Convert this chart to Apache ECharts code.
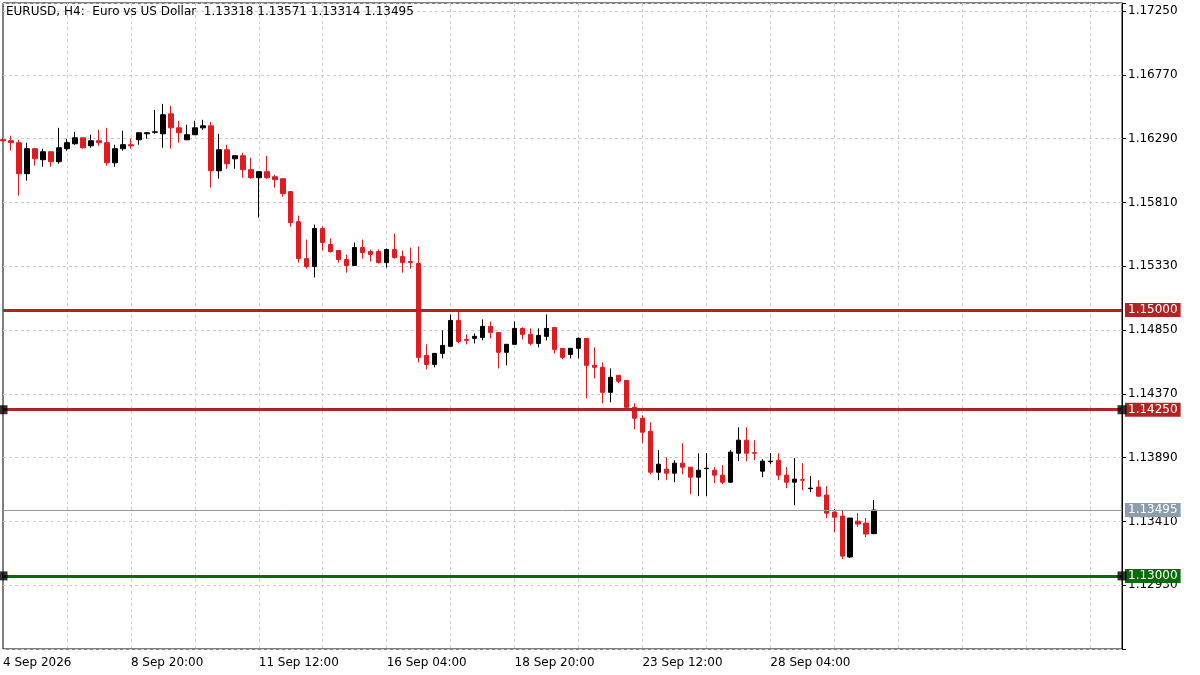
<!DOCTYPE html>
<html><head><meta charset="utf-8">
<script src="https://cdn.jsdelivr.net/npm/echarts@6/dist/echarts.min.js"></script>
<style>html,body{margin:0;padding:0;background:#fff}#c{width:1200px;height:675px}</style>
</head><body><div id="c"></div>
<script>
// [open, close, low, high]
const candles = [
[1.16282,1.16274,1.16266,1.16296],[1.16274,1.16259,1.16199,1.16311],[1.16259,1.16026,1.15861,1.16281],[1.16026,1.16214,1.15973,1.16259],
[1.16214,1.16138,1.16086,1.16220],[1.16131,1.16191,1.16078,1.16214],[1.16191,1.16116,1.16078,1.16195],[1.16116,1.16221,1.16101,1.16371],
[1.16214,1.16259,1.16199,1.16289],[1.16251,1.16296,1.16244,1.16341],[1.16296,1.16221,1.16214,1.16300],[1.16236,1.16274,1.16221,1.16319],
[1.16274,1.16259,1.16236,1.16356],[1.16259,1.16108,1.16086,1.16371],[1.16108,1.16214,1.16078,1.16244],[1.16214,1.16244,1.16199,1.16349],
[1.16244,1.16236,1.16214,1.16289],[1.16281,1.16334,1.16244,1.16337],[1.16326,1.16334,1.16289,1.16340],[1.16337,1.16341,1.16326,1.16506],
[1.16326,1.16469,1.16221,1.16551],[1.16476,1.16371,1.16214,1.16536],[1.16371,1.16334,1.16259,1.16424],[1.16281,1.16319,1.16281,1.16394],
[1.16319,1.16371,1.16319,1.16424],[1.16371,1.16386,1.16356,1.16431],[1.16386,1.16048,1.15921,1.16416],[1.16048,1.16206,1.15988,1.16326],
[1.16206,1.16101,1.16063,1.16244],[1.16138,1.16161,1.16063,1.16161],[1.16161,1.16056,1.15996,1.16184],[1.16056,1.15996,1.15988,1.16146],
[1.15996,1.16041,1.15695,1.16041],[1.16041,1.15996,1.15988,1.16161],[1.16003,1.15981,1.15921,1.16018],[1.15988,1.15876,1.15853,1.15988],
[1.15891,1.15658,1.15628,1.15891],[1.15665,1.15387,1.15357,1.15710],[1.15387,1.15327,1.15312,1.15530],[1.15327,1.15613,1.15245,1.15643],
[1.15613,1.15508,1.15448,1.15628],[1.15493,1.15440,1.15433,1.15538],[1.15448,1.15380,1.15357,1.15448],[1.15380,1.15335,1.15282,1.15418],
[1.15335,1.15470,1.15335,1.15508],[1.15470,1.15433,1.15387,1.15530],[1.15440,1.15418,1.15365,1.15455],[1.15440,1.15357,1.15350,1.15455],
[1.15357,1.15455,1.15320,1.15463],[1.15455,1.15395,1.15387,1.15575],[1.15402,1.15357,1.15282,1.15448],[1.15365,1.15357,1.15312,1.15470],
[1.15350,1.14644,1.14606,1.15478],[1.14659,1.14591,1.14554,1.14742],[1.14591,1.14674,1.14569,1.14674],[1.14674,1.14734,1.14636,1.14847],
[1.14727,1.14922,1.14727,1.14967],[1.14922,1.14764,1.14749,1.14989],[1.14779,1.14772,1.14742,1.14817],[1.14787,1.14802,1.14749,1.14824],
[1.14794,1.14877,1.14772,1.14929],[1.14877,1.14832,1.14787,1.14914],[1.14832,1.14682,1.14561,1.14832],[1.14682,1.14742,1.14584,1.14742],
[1.14742,1.14862,1.14742,1.14914],[1.14862,1.14817,1.14779,1.14869],[1.14817,1.14749,1.14734,1.14862],[1.14749,1.14809,1.14719,1.14862],
[1.14802,1.14862,1.14772,1.14967],[1.14869,1.14704,1.14674,1.14869],[1.14712,1.14644,1.14629,1.14712],[1.14666,1.14712,1.14636,1.14712],
[1.14712,1.14787,1.14636,1.14794],[1.14787,1.14584,1.14336,1.14787],[1.14584,1.14569,1.14486,1.14719],[1.14569,1.14381,1.14298,1.14606],
[1.14381,1.14494,1.14306,1.14561],[1.14509,1.14464,1.14449,1.14509],[1.14471,1.14268,1.14246,1.14471],[1.14268,1.14186,1.14103,1.14298],
[1.14186,1.14081,1.13998,1.14208],[1.14088,1.13780,1.13765,1.14156],[1.13780,1.13840,1.13720,1.13946],[1.13803,1.13773,1.13720,1.13893],
[1.13773,1.13848,1.13705,1.13870],[1.13848,1.13818,1.13765,1.13998],[1.13818,1.13743,1.13615,1.13818],[1.13743,1.13795,1.13600,1.13923],
[1.13807,1.13810,1.13600,1.13923],[1.13795,1.13758,1.13698,1.13818],[1.13758,1.13705,1.13690,1.13833],[1.13705,1.13931,1.13698,1.13946],
[1.13923,1.14021,1.13863,1.14118],[1.14021,1.13923,1.13863,1.14118],[1.13927,1.13923,1.13870,1.14021],[1.13788,1.13863,1.13743,1.13878],
[1.13859,1.13863,1.13840,1.13923],[1.13870,1.13758,1.13720,1.13923],[1.13758,1.13705,1.13660,1.13818],[1.13705,1.13728,1.13532,1.13886],
[1.13724,1.13720,1.13645,1.13848],[1.13656,1.13660,1.13630,1.13750],[1.13668,1.13600,1.13593,1.13720],[1.13608,1.13472,1.13435,1.13675],
[1.13480,1.13442,1.13330,1.13502],[1.13450,1.13149,1.13127,1.13495],[1.13142,1.13435,1.13134,1.13435],[1.13412,1.13390,1.13367,1.13472],
[1.13397,1.13315,1.13292,1.13435],[1.13318,1.13495,1.13314,1.13571]
];
const tickLabels = ['4 Sep 2026','8 Sep 20:00','11 Sep 12:00','16 Sep 04:00','18 Sep 20:00','23 Sep 12:00','28 Sep 04:00'];
const levelsRed = [1.15000, 1.14250];
const levelGreen = 1.13000;
const lastPrice = 1.13495;
const squareLevels = [1.14250, 1.13000];
const headerText = 'EURUSD, H4:  Euro vs US Dollar  1.13318 1.13571 1.13314 1.13495';

const N = 141, step = 16;
const cats = [];
for (let i = 0; i < N; i++) cats.push(i % step === 0 && tickLabels[i / step] ? tickLabels[i / step] : ' ' + i);

const RED = '#E01B22', DRED = '#B22424', GREEN = '#0B6B0B', F = 'Tahoma, "DejaVu Sans", sans-serif';
function lvl(v, color, lw) {
  return {yAxis: v, lineStyle: {color: color, width: lw, type: 'solid'},
    label: {show: true, position: 'end', distance: 3, formatter: v.toFixed(5), color: '#fff',
      backgroundColor: color, padding: [1, 3, 1, 3], fontSize: 12, fontFamily: F}};
}
const squares = [];
squareLevels.forEach(v => { squares.push([cats[0], v]); squares.push([cats[N - 1], v]); });

const chart = echarts.init(document.getElementById('c'));
chart.setOption({
  animation: false,
  backgroundColor: '#fff',
  grid: {left: 3, right: 78, top: 3, bottom: 26, show: true, borderColor: '#000', borderWidth: 1},
  graphic: [{type: 'text', left: 6, top: 6, z: 100, style: {text: headerText, fontSize: 12, fontFamily: F, fill: '#000'}}],
  xAxis: {type: 'category', data: cats, boundaryGap: false,
    axisLine: {show: false}, axisTick: {show: false},
    axisLabel: {interval: (i) => i % step === 0 && i / step < tickLabels.length, align: 'left', color: '#000', fontSize: 12, fontFamily: F, margin: 8},
    splitLine: {show: true, interval: (i) => i % 8 === 0 && i > 0, lineStyle: {color: '#d0d0d0', type: [3, 3]}}},
  yAxis: {type: 'value', position: 'right', scale: true, min: 1.12450, max: 1.17310, interval: 0.0048,
    axisLine: {show: true, lineStyle: {color: '#000'}},
    axisTick: {show: true, length: 4, lineStyle: {color: '#000'}},
    axisLabel: {color: '#000', fontSize: 12, fontFamily: F, margin: 6,
      formatter: (v) => (v < 1.1280 || v > 1.1728) ? '' : v.toFixed(5)},
    splitLine: {show: true, lineStyle: {color: '#d0d0d0', type: [3, 3]}}},
  series: [{
    type: 'candlestick', data: candles, barWidth: 5,
    itemStyle: {color: '#000', color0: RED, borderColor: '#000', borderColor0: RED, borderWidth: 1},
    markLine: {silent: true, animation: false, precision: 5, symbol: ['none', 'none'],
      data: [lvl(levelsRed[0], DRED, 3), lvl(levelsRed[1], DRED, 3), lvl(levelGreen, GREEN, 3),
        {yAxis: lastPrice, lineStyle: {color: '#9a9a9a', width: 1, type: 'solid'},
          label: {show: true, position: 'end', distance: 3, formatter: lastPrice.toFixed(5), color: '#fff', backgroundColor: '#8C9DAE', padding: [1,3,1,3], fontSize: 12, fontFamily: F}}]}
  }, {
    type: 'scatter', data: squares, symbol: 'rect', symbolSize: 9, clip: false, z: 10,
    itemStyle: {color: '#000'}, silent: true
  }]
});
</script></body></html>
